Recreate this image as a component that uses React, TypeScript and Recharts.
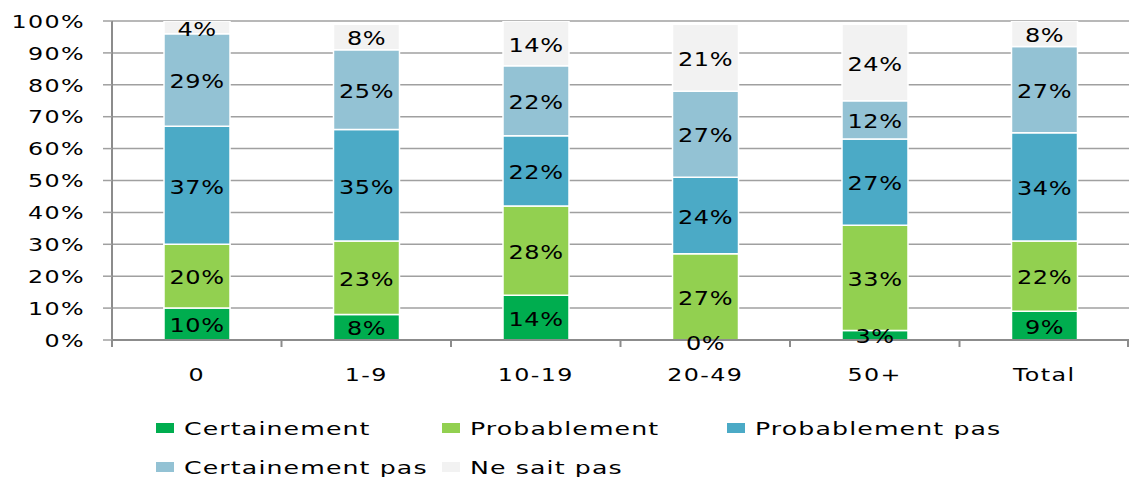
import { Bar, BarChart, CartesianGrid, LabelList, XAxis, YAxis } from "recharts";

const categories = ["0", "1-9", "10-19", "20-49", "50+", "Total"];
const certainement = [10, 8, 14, 0, 3, 9];
const probablement = [20, 23, 28, 27, 33, 22];
const probablementPas = [37, 35, 22, 24, 27, 34];
const certainementPas = [29, 25, 22, 27, 12, 27];
const neSaitPas = [4, 8, 14, 21, 24, 8];
const yTicks = [0, 10, 20, 30, 40, 50, 60, 70, 80, 90, 100];

const seriesNames = ["Certainement", "Probablement", "Probablement pas", "Certainement pas", "Ne sait pas"];
const seriesKeys = ["cert", "prob", "probPas", "certPas", "nsp"];
const seriesValues = [certainement, probablement, probablementPas, certainementPas, neSaitPas];
const colors = ["#00AD4F", "#92D050", "#4BAAC6", "#93C2D4", "#F2F2F2"];

const data = categories.map((c, i) => {
  const row: Record<string, string | number> = { name: c };
  seriesKeys.forEach((k, s) => (row[k] = seriesValues[s][i]));
  return row;
});

const W = 1129;
const H = 477;
const AXIS_W = 112;
const STEP = (W - AXIS_W) / categories.length;
const FONT = "'DejaVu Sans', sans-serif";
const AXIS_GREY = "#8C8C8C";

// wide lettering: glyphs stretched horizontally around the anchor
function WideText({ x, y, size, sx, anchor, spacing, children }: any) {
  return (
    <text
      transform={`translate(${x},${y}) scale(${sx},1)`}
      textAnchor={anchor}
      dominantBaseline="central"
      fontFamily={FONT}
      fontSize={size}
      letterSpacing={spacing}
      fill="#000"
    >
      {children}
    </text>
  );
}

function YTick({ x, y, payload }: any) {
  return <WideText x={x} y={y + 1} size={17} sx={1.4} anchor="end" spacing={1}>{`${payload.value}%`}</WideText>;
}

function XTick({ x, y, payload, index }: any) {
  const last = index === categories.length - 1;
  return (
    <g>
      <line x1={x - STEP / 2} x2={x - STEP / 2} y1={y} y2={y + 7} stroke={AXIS_GREY} strokeWidth={2} />
      {last && <line x1={x + STEP / 2 - 1} x2={x + STEP / 2 - 1} y1={y} y2={y + 7} stroke={AXIS_GREY} strokeWidth={2} />}
      <WideText x={x} y={y + 35} size={17} sx={1.4} anchor="middle" spacing={1}>{payload.value}</WideText>
    </g>
  );
}

function SegmentLabel({ x, y, width, height, value }: any) {
  return (
    <WideText x={x + width / 2} y={y + height / 2 + 1} size={20} sx={1.2} anchor="middle" spacing={0.5}>
      {`${value}%`}
    </WideText>
  );
}

// a zero-height "Certainement" segment draws no label of its own,
// so the segment above it writes the 0% at the stack base
function ProbLabel(props: any) {
  const { x, y, width, height, index } = props;
  const base = certainement[index];
  return (
    <g>
      <SegmentLabel {...props} />
      {base === 0 && (
        <WideText x={x + width / 2} y={y + height + 3} size={20} sx={1.2} anchor="middle" spacing={0.5}>
          {`${base}%`}
        </WideText>
      )}
    </g>
  );
}

function Legend() {
  const cols = [156, 442, 727];
  const rows = [428, 467];
  return (
    <>
      {seriesNames.map((name, i) => {
        const left = cols[i % 3];
        const top = rows[Math.floor(i / 3)];
        return (
          <div key={name} style={{ position: "absolute", left, top: top - 12, height: 24, display: "flex", alignItems: "center" }}>
            <span style={{ width: 18, height: 10, background: colors[i], display: "inline-block" }} />
            <span
              style={{
                marginLeft: 10,
                fontFamily: FONT,
                fontSize: 18,
                letterSpacing: 0.8,
                color: "#000",
                display: "inline-block",
                whiteSpace: "nowrap",
                transform: "scaleX(1.4)",
                transformOrigin: "left center",
              }}
            >
              {name}
            </span>
          </div>
        );
      })}
    </>
  );
}

export default function App() {
  return (
    <div style={{ position: "fixed", left: 0, top: 0, width: W, height: H, background: "#fff", overflow: "hidden" }}>
      <BarChart width={W} height={H} data={data} margin={{ top: 21, right: 0, left: 0, bottom: 77 }} barSize={66}>
        <CartesianGrid horizontal vertical={false} stroke="#A0A0A0" strokeWidth={1.5} />
        <XAxis
          dataKey="name"
          height={60}
          tickLine={false}
          tickSize={0}
          tickMargin={0}
          axisLine={{ stroke: AXIS_GREY, strokeWidth: 2 }}
          tick={<XTick />}
          interval={0}
        />
        <YAxis
          width={AXIS_W}
          domain={[0, 100]}
          ticks={yTicks}
          interval={0}
          allowDataOverflow
          tickSize={9}
          tickMargin={18}
          tickLine={{ stroke: "#A0A0A0", strokeWidth: 1.5 }}
          axisLine={{ stroke: AXIS_GREY, strokeWidth: 2 }}
          tick={<YTick />}
        />
        {seriesKeys.map((k, i) => (
          <Bar key={k} dataKey={k} name={seriesNames[i]} stackId="a" fill={colors[i]} stroke="#fff" strokeWidth={1.5} isAnimationActive={false}>
            <LabelList dataKey={k} content={k === "prob" ? <ProbLabel /> : <SegmentLabel />} />
          </Bar>
        ))}
      </BarChart>
      <Legend />
    </div>
  );
}
